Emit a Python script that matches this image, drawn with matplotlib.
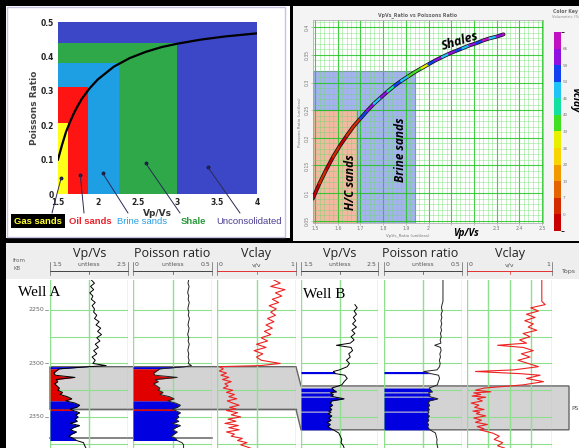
import numpy as np
import matplotlib
matplotlib.use("Agg")
import matplotlib.pyplot as plt
from matplotlib.patches import Rectangle, Polygon
from matplotlib.lines import Line2D
from matplotlib.collections import LineCollection
from matplotlib.colors import ListedColormap, BoundaryNorm
from matplotlib.cm import ScalarMappable

W, H = 579, 448

# ---------------- top-left: rock-type fields ----------------
REGION_NAMES = ["Gas sands", "Oil sands", "Brine sands", "Shale", "Unconsolidated"]
REGION_VPVS_MAX = [1.62, 1.88, 2.27, 3.0, 4.0]
REGION_PR_MAX = [0.205, 0.31, 0.38, 0.44, 0.5]
REGION_COLORS = ["#ffff1a", "#ff1414", "#1e9fe3", "#2fa84a", "#3b47c6"]
LABEL_COLORS = ["#ffff33", "#e8202a", "#2a9fe0", "#2a9a3a", "#4a3f8f"]
POINTER_VPVS = [1.54, 1.78, 2.06, 2.6, 3.38]
POINTER_PR = [0.047, 0.055, 0.061, 0.09, 0.079]

CURVE_VPVS = [1.5, 1.55, 1.6, 1.65, 1.7, 1.75, 1.8, 1.9, 2.0, 2.2, 2.4, 2.6, 2.8, 3.0, 3.3, 3.6, 4.0]
CURVE_PR = [0.10, 0.142, 0.18, 0.209, 0.235, 0.257, 0.277, 0.308, 0.333, 0.37, 0.395, 0.413,
            0.427, 0.437, 0.449, 0.458, 0.467]

# ---------------- top-right: crossplot coloured by Vclay ----------------
XPLOT_VPVS = [1.49, 1.52, 1.55, 1.58, 1.61, 1.64, 1.67, 1.70, 1.73, 1.76, 1.79, 1.82, 1.85, 1.88,
              1.91, 1.94, 1.97, 2.00, 2.03, 2.06, 2.09, 2.12, 2.15, 2.18, 2.21, 2.24, 2.27, 2.30, 2.33]
XPLOT_PR = [0.090, 0.118, 0.143, 0.166, 0.186, 0.204, 0.221, 0.235, 0.249, 0.262, 0.273, 0.284,
            0.294, 0.303, 0.311, 0.319, 0.326, 0.333, 0.340, 0.346, 0.352, 0.357, 0.362, 0.367,
            0.371, 0.376, 0.380, 0.383, 0.387]
XPLOT_VCLAY = [-2, 1, -3, 2, -1, 3, 1, 55, 62, 50, 60, 45, 58, 52, 38, 35, 30, 55, 62, 50, 65,
               58, 48, 62, 55, 68, 50, 65, 70]
HC_BOX = (1.685, 0.25)
BRINE_BOX = (1.94, 0.32)
XPLOT_XTICKS = [1.5, 1.6, 1.7, 1.8, 1.9, 2.0, 2.1, 2.2, 2.3, 2.4, 2.5]
XPLOT_XLABELS = ["1.5", "1.6", "1.7", "1.8", "1.9", "2", "", "", "2.3", "2.4", "2.5"]
XPLOT_YTICKS = [0.05, 0.1, 0.15, 0.2, 0.25, 0.3, 0.35, 0.4]
VCLAY_BOUNDS = [-6.6, 0, 6.6, 13.2, 19.8, 26.4, 33, 39.6, 46.2, 52.8, 59.4, 66, 72.6]
VCLAY_TICKS = [0, 7, 13, 20, 26, 33, 40, 46, 53, 59, 66]
VCLAY_COLORS = ["#c80000", "#d42a00", "#e36400", "#f09a00", "#f8d400", "#e6f000",
                "#40e020", "#10e0a0", "#20c4f4", "#1040f0", "#9010e0", "#c010c0"]

# ---------------- bottom: well logs ----------------
DEPTH_A = [2222, 2225, 2228, 2231, 2234, 2237, 2240, 2243, 2246, 2249, 2252, 2255, 2258, 2261,
           2264, 2267, 2270, 2273, 2276, 2279, 2282, 2285, 2288, 2291, 2294, 2297, 2300,
           2302, 2303, 2305, 2307, 2309, 2311, 2313, 2315, 2317, 2319, 2321, 2323, 2325, 2327,
           2329, 2331, 2333, 2335, 2337, 2339, 2341, 2342.5, 2344, 2346, 2348, 2350, 2352, 2354,
           2356, 2358, 2360, 2362, 2364, 2366, 2368, 2370, 2372, 2374, 2376, 2379]
VPVS_A = [2.03, 2.07, 2.02, 2.06, 2.01, 2.05, 2.03, 2.08, 2.04, 2.07, 2.06, 2.10, 2.07, 2.13,
          2.09, 2.15, 2.11, 2.16, 2.10, 2.14, 2.08, 2.12, 2.06, 2.10, 2.04, 2.08, 2.05,
          2.22, 2.00, 1.62, 1.58, 1.55, 1.57, 1.82, 1.58, 1.60, 1.56, 1.59, 1.62, 1.60, 1.66,
          1.63, 1.72, 1.78, 1.70, 1.82, 1.88, 1.84, 1.76, 1.80, 1.88, 1.83, 1.86, 1.82, 1.85,
          1.76, 1.88, 1.80, 1.76, 1.84, 1.78, 1.74, 1.80, 1.84, 1.93, 1.94, 1.96]
PR_A = [0.352, 0.348, 0.355, 0.350, 0.346, 0.353, 0.349, 0.356, 0.351, 0.347, 0.354, 0.350, 0.357,
        0.352, 0.348, 0.355, 0.351, 0.346, 0.353, 0.349, 0.356, 0.351, 0.347, 0.353, 0.349, 0.355,
        0.350, 0.370, 0.330, 0.17, 0.15, 0.13, 0.14, 0.28, 0.14, 0.16, 0.13, 0.15, 0.17, 0.16,
        0.19, 0.17, 0.23, 0.26, 0.22, 0.27, 0.30, 0.28, 0.25, 0.27, 0.30, 0.28, 0.29, 0.27, 0.29,
        0.25, 0.30, 0.27, 0.25, 0.28, 0.26, 0.24, 0.27, 0.28, 0.31, 0.32, 0.32]
VCLAY_A = [0.72, 0.80, 0.68, 0.86, 0.74, 0.82, 0.70, 0.78, 0.66, 0.75, 0.68, 0.74, 0.64, 0.72,
           0.62, 0.70, 0.60, 0.68, 0.56, 0.64, 0.50, 0.62, 0.47, 0.58, 0.50, 0.56, 0.80,
           0.55, 0.03, 0.08, 0.03, 0.12, 0.05, 0.15, 0.07, 0.18, 0.10, 0.14, 0.08, 0.20, 0.12,
           0.22, 0.15, 0.25, 0.13, 0.20, 0.28, 0.16, 0.24, 0.12, 0.26, 0.18, 0.30, 0.14, 0.24,
           0.10, 0.27, 0.15, 0.28, 0.12, 0.22, 0.18, 0.32, 0.26, 0.38, 0.30, 0.42]
FLUID_A_TOP = [2303, 2305, 2335, 2342.5, 2344]
FLUID_A_BASE = [2305, 2335, 2342.5, 2344, 2372]
FLUID_A_KIND = ["brine", "oil", "brine", "oil", "brine"]

DEPTH_B = [2222, 2226, 2230, 2234, 2238, 2242, 2245, 2248, 2251, 2254, 2257, 2260, 2263, 2266,
           2269, 2272, 2275, 2278, 2281, 2283, 2285, 2288, 2291, 2294, 2297, 2300, 2303, 2306,
           2307.5, 2309.5, 2311, 2314, 2317, 2320, 2323, 2325, 2326.5, 2327.5, 2329, 2330.5,
           2331.5, 2333, 2335, 2337, 2339, 2341, 2343, 2344.5, 2345.5, 2347, 2349, 2351, 2353,
           2355, 2357, 2359, 2361, 2362, 2365, 2368, 2371, 2374, 2377, 2379]
nan = float("nan")
VPVS_B = [nan, nan, nan, nan, nan, nan, 2.20, 2.23, 2.19, 2.22, 2.18, 2.21, 2.17, 2.22,
          2.16, 2.20, 2.15, 2.19, 2.14, 1.96, 2.15, 2.17, 2.12, 2.14, 2.09, 2.13, 2.10, 2.00,
          1.92, 1.95, 2.07, 2.10, 2.06, 2.03, 1.90, 1.93, 1.96, 1.88, 1.92, 1.89,
          1.95, 2.06, 1.90, 1.88, 1.91, 1.87, 1.90, 1.86, 1.89, 1.85, 1.90, 1.86, 1.89,
          1.84, 1.88, 1.85, 1.89, 1.92, 1.99, 2.01, 2.03, 2.02, 2.05, 2.06]
PR_B = [0.378, 0.378, 0.378, 0.378, 0.378, 0.378, 0.372, 0.368, 0.374, 0.366, 0.371, 0.365,
        0.370, 0.364, 0.369, 0.362, 0.367, 0.360, 0.365, 0.325, 0.362, 0.366, 0.358, 0.362,
        0.355, 0.360, 0.356, 0.340, 0.255, 0.300, 0.350, 0.356, 0.348, 0.342, 0.29, 0.30, 0.31,
        0.285, 0.295, 0.288, 0.305, 0.345, 0.29, 0.284, 0.292, 0.282, 0.29, 0.28, 0.288, 0.278,
        0.29, 0.28, 0.287, 0.276, 0.285, 0.279, 0.288, 0.295, 0.33, 0.335, 0.34, 0.338, 0.342,
        0.345]
VCLAY_B = [0.88, 0.88, 0.88, 0.88, 0.88, 0.88, 0.92, 0.75, 0.84, 0.70, 0.80, 0.68, 0.78, 0.72,
           0.82, 0.66, 0.74, 0.62, 0.70, 0.36, 0.66, 0.78, 0.64, 0.74, 0.60, 0.72, 0.84, 0.55,
           0.10, 0.62, 0.86, 0.70, 0.90, 0.66, 0.20, 0.10, 0.28, 0.08, 0.16, 0.06,
           0.22, 0.12, 0.18, 0.05, 0.14, 0.09, 0.20, 0.07, 0.15, 0.11, 0.22, 0.08, 0.17,
           0.10, 0.24, 0.12, 0.20, 0.15, 0.30, 0.38, 0.32, 0.42, 0.36, 0.44]
FLUID_B_TOP = [2307.5, 2323, 2327.5, 2331.5, 2345.5]
FLUID_B_BASE = [2309.5, 2326.5, 2330.5, 2344.5, 2362]
FLUID_B_KIND = ["brine"] * 5

ZONE_A = (2303, 2343)
ZONE_B = (2321, 2362)
LOWER_A = 2369.5
DEPTH_GRID = [2250, 2275, 2300, 2325, 2350, 2375]
DEPTH_LABELS = [2250, 2300, 2350]
D_TOP, D_BOT = 2222, 2379

TRACK_TITLES = ["Vp/Vs", "Poisson ratio", "Vclay"]
SCALE_LEFT = ["1.5", "0", "0"]
SCALE_RIGHT = ["2.5", "0.5", "1"]
SCALE_UNIT = ["untless", "untless", "v/v"]
SCALE_LIM = [(1.5, 2.5), (0.0, 0.5), (0.0, 1.0)]
FLUID_COLORS = {"oil": "#e00000", "brine": "#0000e0"}

# ---------------- figure ----------------
fig = plt.figure(figsize=(W / 100, H / 100), dpi=100, facecolor="black")


def axpx(x0, y0, x1, y1, **kw):
    return fig.add_axes([x0 / W, 1 - y1 / H, (x1 - x0) / W, (y1 - y0) / H], **kw)


def ftxt(x, y, s, **kw):
    return fig.text(x / W, 1 - y / H, s, **kw)


def frect(x0, y0, x1, y1, **kw):
    fig.add_artist(Rectangle((x0 / W, 1 - y1 / H), (x1 - x0) / W, (y1 - y0) / H,
                             transform=fig.transFigure, **kw))


def fline(xs, ys, **kw):
    fig.add_artist(Line2D([x / W for x in xs], [1 - y / H for y in ys],
                          transform=fig.transFigure, **kw))


# panel backgrounds
frect(6, 6, 290, 238, facecolor="white", edgecolor="none", zorder=-2)
frect(7, 7, 285, 237, facecolor="none", edgecolor="#c4c4e2", lw=1, zorder=-1)
frect(293, 6, 579, 241, facecolor="#f4f4f4", edgecolor="none", zorder=-2)
frect(6, 243, 579, 448, facecolor="white", edgecolor="none", zorder=-2)
frect(6, 243, 579, 279, facecolor="#eeeeee", edgecolor="none", zorder=-1)

# ---- top-left ----
ax1 = axpx(58, 22, 257, 194)
for xm, ym, c in reversed(list(zip(REGION_VPVS_MAX, REGION_PR_MAX, REGION_COLORS))):
    ax1.add_patch(Rectangle((1.5, 0), xm - 1.5, ym, facecolor=c, edgecolor="none"))
ax1.plot(CURVE_VPVS, CURVE_PR, color="black", lw=1.6)
ax1.plot(POINTER_VPVS, POINTER_PR, "o", ms=1.8, color="#1a1a40")
ax1.set_xlim(1.5, 4)
ax1.set_ylim(0, 0.5)
ax1.set_xticks([1.5, 2, 2.5, 3, 3.5, 4], ["1.5", "2", "2.5", "3", "3.5", "4"])
ax1.set_yticks([0, 0.1, 0.2, 0.3, 0.4, 0.5], ["0", "0.1", "0.2", "0.3", "0.4", "0.5"])
ax1.tick_params(length=0, pad=3, labelsize=5.5, labelcolor="#222222")
for lab in ax1.get_xticklabels() + ax1.get_yticklabels():
    lab.set_fontweight("bold")
for s in ax1.spines.values():
    s.set_visible(False)
ax1.set_xlabel("Vp/Vs", fontsize=6.5, fontweight="bold", color="#333333", labelpad=1)
ax1.set_ylabel("Poissons Ratio", fontsize=6.5, fontweight="bold", color="#444444", labelpad=1)

narrow = ["Liberation Sans Narrow", "Liberation Sans", "DejaVu Sans"]
label_x = [38, 90, 142, 193, 249]
tail_x = [52, 84, 128, 180, 240]
weights = ["bold", "bold", "normal", "bold", "normal"]
for i, name in enumerate(REGION_NAMES):
    kw = dict(ha="center", va="center", fontsize=6.8, color=LABEL_COLORS[i],
              fontweight=weights[i], family=narrow)
    if i == 0:
        kw["bbox"] = dict(boxstyle="square,pad=0.3", facecolor="black", edgecolor="none")
    ftxt(label_x[i], 221, name, **kw)
    ax1.annotate("", xy=(POINTER_VPVS[i], POINTER_PR[i]), xytext=(tail_x[i], H - 213),
                 textcoords="figure pixels", annotation_clip=False,
                 arrowprops=dict(arrowstyle="-", lw=0.7, color="#2a2a55", shrinkA=0, shrinkB=0))

# ---- top-right ----
ax2 = axpx(313, 20, 543, 223)
ax2.set_facecolor("white")
ax2.set_xlim(1.491, 2.504)
ax2.set_ylim(0.046, 0.413)
ax2.set_xticks(XPLOT_XTICKS, XPLOT_XLABELS)
ax2.set_xticks(np.arange(1.5, 2.5, 0.02), minor=True)
ax2.set_yticks(XPLOT_YTICKS, [f"{v:g}" for v in XPLOT_YTICKS])
ax2.set_yticks(np.arange(0.05, 0.413, 0.01), minor=True)
ax2.set_axisbelow(True)
ax2.grid(which="major", color="#22c222", lw=0.8, alpha=0.85)
ax2.grid(which="minor", color="#66dd66", lw=0.5, alpha=0.55)
ax2.tick_params(which="both", labelsize=3.3, labelcolor="#777777", length=1.5, width=0.4, color="#999999", pad=1)
ax2.tick_params(which="minor", length=0)
for lab in ax2.get_yticklabels():
    lab.set_rotation(90)
    lab.set_va("center")
for s in ax2.spines.values():
    s.set_color("#b0b0b0")
    s.set_linewidth(0.6)
ax2.add_patch(Rectangle((1.491, 0.046), BRINE_BOX[0] - 1.491, BRINE_BOX[1] - 0.046,
                        facecolor="#a4b2ee", edgecolor="#7e80a8", lw=0.8, zorder=0.2))
ax2.add_patch(Rectangle((1.491, 0.046), HC_BOX[0] - 1.491, HC_BOX[1] - 0.046,
                        facecolor="#f2b8a2", edgecolor="#7e80a8", lw=0.8, zorder=0.3))
cmap = ListedColormap(VCLAY_COLORS)
norm = BoundaryNorm(VCLAY_BOUNDS, cmap.N)
pts = np.column_stack([XPLOT_VPVS, XPLOT_PR])
segs = np.stack([pts[:-1], pts[1:]], axis=1)
ax2.plot(XPLOT_VPVS, XPLOT_PR, color="#1c1420", lw=2.8, zorder=2.6, solid_capstyle="round")
lc = LineCollection(segs, cmap=cmap, norm=norm, lw=1.6, zorder=2.7)
lc.set_array(np.asarray(XPLOT_VCLAY[:-1], float))
ax2.add_collection(lc)
ax2.scatter(XPLOT_VPVS, XPLOT_PR, c=XPLOT_VCLAY, cmap=cmap, norm=norm, s=3, lw=0, zorder=2.8)

bi = ["Open Sans", "DejaVu Sans"]
ax2.text(2.14, 0.374, "Shales", rotation=17, fontsize=9, fontweight="bold", style="italic",
         family=bi, ha="center", va="center", zorder=4)
ax2.text(1.875, 0.178, "Brine sands", rotation=90, fontsize=8.5, fontweight="bold", style="italic",
         family=bi, ha="center", va="center", zorder=4)
ax2.text(1.655, 0.12, "H/C sands", rotation=90, fontsize=8.5, fontweight="bold", style="italic",
         family=bi, ha="center", va="center", zorder=4)
ftxt(466, 233, "Vp/Vs", fontsize=7, fontweight="bold", style="italic", family=bi,
     ha="center", va="center")
ftxt(418, 15, "VpVs_Ratio vs Poissons Ratio", fontsize=3.4, fontweight="bold", color="#666666",
     ha="center", va="center")
ftxt(408, 236, "VpVs_Ratio (unitless)", fontsize=3, color="#777777", ha="center", va="center")
ftxt(300, 122, "Poissons Ratio (unitless)", fontsize=3, color="#777777", rotation=90,
     ha="center", va="center")
ftxt(553, 12, "Color Key", fontsize=3.3, fontweight="bold", color="#666666", ha="left", va="center")
ftxt(552, 17, "Volumetric (%)", fontsize=2.7, color="#888888", ha="left", va="center")

cax = axpx(554, 32, 561, 231)
cb = fig.colorbar(ScalarMappable(norm=norm, cmap=cmap), cax=cax)
cb.outline.set_visible(False)
cb.set_ticks(VCLAY_BOUNDS[1:-1], labels=[str(t) for t in VCLAY_TICKS])
cax.tick_params(labelsize=3.0, labelcolor="#777777", length=0, pad=1.5)
ftxt(575, 100, "Vclay", rotation=-90, fontsize=7.5, fontweight="bold", style="italic", family=bi,
     ha="center", va="center")

# ---- bottom: well logs ----
bg = axpx(6, 280, 579, 448)
bg.set_xlim(6, 579)
bg.set_ylim(D_BOT, D_TOP)
bg.set_axis_off()
zone_poly = [(50, ZONE_A[0]), (296, ZONE_A[0]), (301, ZONE_B[0]), (569, ZONE_B[0]),
             (569, ZONE_B[1]), (301, ZONE_B[1]), (296, ZONE_A[1]), (50, ZONE_A[1])]
bg.add_patch(Polygon(zone_poly, closed=True, facecolor="#d3d3d3", edgecolor="#666666", lw=1.0))
bg.plot([50, 296], [ZONE_A[1], ZONE_A[1]], color="#666666", lw=1.0)
bg.plot([50, 212], [LOWER_A, LOWER_A], color="#707070", lw=1.2)

GRID_G = "#8ee08e"
wells = [
    dict(depth=DEPTH_A, logs=[VPVS_A, PR_A, VCLAY_A],
         px=[(50, 128), (133, 212), (217, 296)],
         fills=list(zip(FLUID_A_TOP, FLUID_A_BASE, FLUID_A_KIND)),
         vgrid=[[2.0], [0.25], [0.5]], title_x=[90, 172, 256]),
    dict(depth=DEPTH_B, logs=[VPVS_B, PR_B, VCLAY_B],
         px=[(301, 378), (384, 462), (467, 552)],
         fills=list(zip(FLUID_B_TOP, FLUID_B_BASE, FLUID_B_KIND)),
         vgrid=[[2.0], [0.25], [0.25, 0.5, 0.75]], title_x=[340, 420, 510]),
]
curve_colors = ["black", "#222222", "#ee2222"]
for w_i, w in enumerate(wells):
    d = np.asarray(w["depth"], float)
    for t in range(3):
        x0, x1 = w["px"][t]
        lo, hi = SCALE_LIM[t]
        ax = axpx(x0, 280, x1, 448)
        ax.patch.set_alpha(0)
        ax.set_xlim(lo, hi)
        ax.set_ylim(D_BOT, D_TOP)
        ax.set_xticks([])
        ax.set_yticks([])
        for s in ax.spines.values():
            s.set_visible(False)
        for xv in [lo, hi] + w["vgrid"][t]:
            ax.axvline(xv, color=GRID_G, lw=1.0, zorder=1)
        for dg in DEPTH_GRID:
            ax.axhline(dg, color=GRID_G, lw=0.8, zorder=1)
        v = np.asarray(w["logs"][t], float)
        if t < 2:
            for a, b, kind in w["fills"]:
                m = (d >= a) & (d <= b)
                ax.fill_betweenx(d, lo, v, where=m, color=FLUID_COLORS[kind], lw=0, zorder=2)
        ax.plot(v, d, color=curve_colors[t], lw=0.7 if t < 2 else 0.8, zorder=3)

        # header
        xc = (x0 + x1) / 2
        ftxt(w["title_x"][t], 253, TRACK_TITLES[t], fontsize=9, family=["Open Sans", "DejaVu Sans"],
             color="#222222", ha="center", va="center")
        ftxt(x0 + 2, 265, SCALE_LEFT[t], fontsize=4.5, color="#555555", ha="left", va="center")
        ftxt(xc, 265, SCALE_UNIT[t], fontsize=4.5, color="#555555", ha="center", va="center")
        ftxt(x1 - 2, 265, SCALE_RIGHT[t], fontsize=4.5, color="#555555", ha="right", va="center")
        lc_col = "#e03030" if t == 2 else "#444444"
        fline([x0, x1], [271, 271], color=lc_col, lw=0.7)
        fline([x0, x0], [262, 275], color="#666666", lw=0.5)
        fline([x1, x1], [262, 275], color="#666666", lw=0.5)
        fline([xc, xc], [271, 274], color=lc_col, lw=0.5)

ftxt(13, 261, "from", fontsize=4, color="#666666", ha="left", va="center")
ftxt(13, 268, "KB", fontsize=4, color="#666666", ha="left", va="center")
ftxt(562, 271, "Tops", fontsize=4.5, color="#555555", ha="left", va="center")
ftxt(571, 408, "PS", fontsize=4.5, color="#555555", ha="left", va="center")

# depth labels
for dl in DEPTH_LABELS:
    yp = 280 + (dl - D_TOP) * (168 / (D_BOT - D_TOP))
    ftxt(44, yp, str(dl), fontsize=4.5, color="#666666", ha="right", va="center")
    fline([44.5, 48], [yp, yp], color="#777777", lw=0.5)

serif = ["Liberation Serif", "DejaVu Serif"]
ftxt(18, 292, "Well A", fontsize=11, family=serif, color="black", ha="left", va="center")
ftxt(303, 294, "Well B", fontsize=11, family=serif, color="black", ha="left", va="center")

fig.savefig("out.png", dpi=100, facecolor=fig.get_facecolor())
